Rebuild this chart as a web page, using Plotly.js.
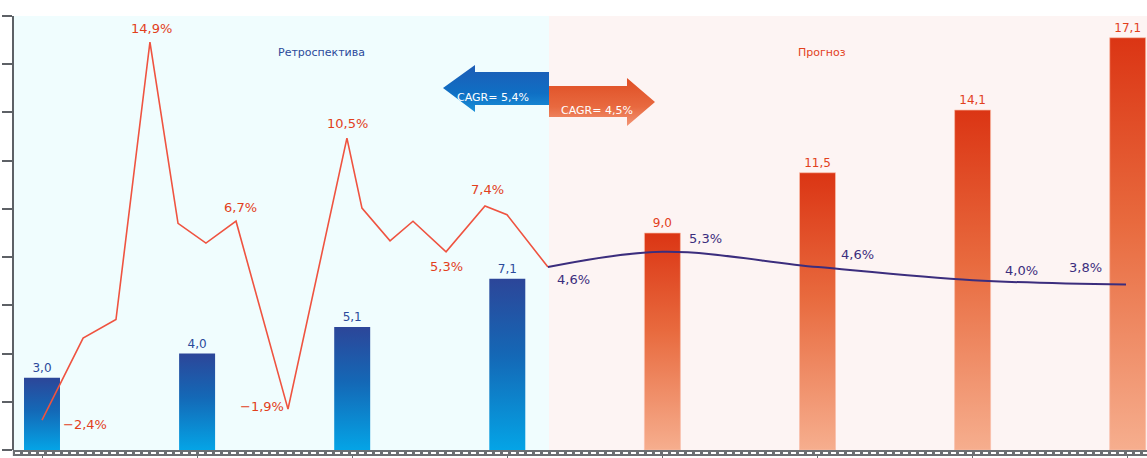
<!DOCTYPE html>
<html><head><meta charset="utf-8">
<script src="https://cdn.plot.ly/plotly-3.0.1.min.js"></script>
<style>html,body{margin:0;padding:0;background:#fff}#chart{width:1147px;height:458px}</style>
</head><body><div id="chart"></div>
<script>
// ---- data ----
const barPos = [0, 1, 2, 3, 4, 5, 6, 7];
const barValues = [3.0, 4.0, 5.1, 7.1, 9.0, 11.5, 14.1, 17.1];
const retroCount = 4;
const growthRetroX = [0, 0.265, 0.477, 0.696, 0.877, 1.057, 1.251, 1.586, 1.966, 2.063, 2.244, 2.392, 2.605, 2.856, 2.998, 3.262];
const growthRetro  = [-2.4, 1.35, 2.2, 14.9, 6.6, 5.7, 6.7, -1.9, 10.5, 7.3, 5.8, 6.7, 5.3, 7.4, 7.0, 4.6];
const growthFcX = [3.262, 4.0, 5.003, 6.003, 6.989];
const growthFc  = [4.6, 5.3, 4.6, 4.0, 3.8];
const cagrRetro = 5.4, cagrFc = 4.5;
const sectionLabels = ['Ретроспектива', 'Прогноз'];

// label positions: [index, xshift, yshift]
const retroLabelPts = [[3, 2, 14], [0, 43, -4], [6, 4, 14], [7, -26, 3], [8, 1, 15], [12, 0, -15], [13, 3, 16]];
const fcLabelPts = [[0, 26, -12], [1, 43, 13], [2, 40, 13], [3, 48, 10], [4, -40, 17]];

function fmt(v, pct) {
  return (v < 0 ? '\u2212' : '') + Math.abs(v).toFixed(1).replace('.', ',') + (pct ? '%' : '');
}

// pixel -> paper helpers for decorations (plot area 14..1147 x 16..450)
const PL = 14, PR = 1147, PT = 16, PB = 450;
const px = v => (v - PL) / (PR - PL);
const py = v => (PB - v) / (PB - PT);
function pathP(pts) { return 'M' + pts.map(p => px(p[0]).toFixed(5) + ',' + py(p[1]).toFixed(5)).join(' L') + ' Z'; }

const FONT = 'DejaVu Sans, Verdana, sans-serif';
const BLUE_TXT = '#2b4a9b', RED_TXT = '#e2401c', PURP = '#3b2d7d', RED_LINE = '#ef5340';

const data = [
  {
    type: 'bar', x: barPos.slice(0, retroCount), y: barValues.slice(0, retroCount),
    width: 0.232, marker: { color: '#1f62b4', line: { width: 0 } },
    text: barValues.slice(0, retroCount).map(v => fmt(v)), textposition: 'outside',
    textfont: { family: FONT, size: 12, color: BLUE_TXT }, cliponaxis: false, hoverinfo: 'none'
  },
  {
    type: 'bar', x: barPos.slice(retroCount), y: barValues.slice(retroCount),
    width: 0.232, marker: { color: '#e4582c', line: { width: 1, color: 'rgba(250,190,170,0.7)' } },
    text: barValues.slice(retroCount).map(v => fmt(v)), textposition: 'outside',
    textfont: { family: FONT, size: 12, color: RED_TXT }, cliponaxis: false, hoverinfo: 'none'
  },
  {
    type: 'scatter', mode: 'lines', x: growthRetroX, y: growthRetro, yaxis: 'y2',
    line: { color: RED_LINE, width: 1.6 }, hoverinfo: 'none'
  },
  {
    type: 'scatter', mode: 'lines', x: growthFcX, y: growthFc, yaxis: 'y2',
    line: { color: PURP, width: 2, shape: 'spline', smoothing: 1 }, hoverinfo: 'none'
  }
];

const annotations = [];
retroLabelPts.forEach(([i, xs, ys]) => annotations.push({
  x: growthRetroX[i], y: growthRetro[i], xref: 'x', yref: 'y2', text: fmt(growthRetro[i], true),
  showarrow: false, xshift: xs, yshift: ys, font: { family: FONT, size: 13, color: RED_TXT }
}));
fcLabelPts.forEach(([i, xs, ys]) => annotations.push({
  x: growthFcX[i], y: growthFc[i], xref: 'x', yref: 'y2', text: fmt(growthFc[i], true),
  showarrow: false, xshift: xs, yshift: ys, font: { family: FONT, size: 13, color: PURP }
}));
annotations.push({ xref: 'paper', yref: 'paper', x: px(276), y: py(44), text: sectionLabels[0], showarrow: false,
  font: { family: FONT, size: 11, color: BLUE_TXT } });
annotations.push({ xref: 'paper', yref: 'paper', x: px(848), y: py(44), text: sectionLabels[1], showarrow: false,
  font: { family: FONT, size: 11, color: RED_TXT } });
annotations.push({ xref: 'paper', yref: 'paper', x: px(493), y: py(89), text: 'CAGR= ' + fmt(cagrRetro, true), showarrow: false,
  font: { family: FONT, size: 11, color: '#ffffff' } });
annotations.push({ xref: 'paper', yref: 'paper', x: px(597), y: py(102), text: 'CAGR= ' + fmt(cagrFc, true), showarrow: false,
  font: { family: FONT, size: 11, color: '#ffffff' } });

const shapes = [
  { type: 'rect', xref: 'paper', yref: 'paper', x0: 0, x1: px(549), y0: 0, y1: 1, fillcolor: '#f0fdfe', line: { width: 0 }, layer: 'below' },
  { type: 'rect', xref: 'paper', yref: 'paper', x0: px(549), x1: 1, y0: 0, y1: 1, fillcolor: '#fdf4f3', line: { width: 0 }, layer: 'below' },
  // CAGR arrows
  { type: 'path', xref: 'paper', yref: 'paper', path: pathP([[443, 88], [475, 65], [475, 72], [549, 72], [549, 105], [475, 105], [475, 112]]),
    fillcolor: '#1565bd', line: { width: 0 }, layer: 'above' },
  { type: 'path', xref: 'paper', yref: 'paper', path: pathP([[549, 86], [627, 86], [627, 78], [655, 102], [627, 126], [627, 117], [549, 117]]),
    fillcolor: '#e6633a', line: { width: 0 }, layer: 'above' },
  // bottom "road" axis
  { type: 'rect', xref: 'paper', yref: 'paper', x0: -0.001, x1: 1, y0: py(456), y1: py(450), fillcolor: '#6b6e72', line: { width: 0 }, layer: 'above' },
  { type: 'line', xref: 'paper', yref: 'paper', x0: px(15), x1: 1, y0: py(453), y1: py(453), line: { color: '#ffffff', width: 2, dash: '5px,3px' }, layer: 'above' }
];

const layout = {
  width: 1147, height: 458,
  margin: { l: PL, r: 1147 - PR, t: PT, b: 458 - PB, pad: 0 },
  paper_bgcolor: '#ffffff', plot_bgcolor: 'rgba(0,0,0,0)',
  showlegend: false, barmode: 'overlay',
  xaxis: { range: [(PL - 42) / 155.1, (PR - 42) / 155.1], showgrid: false, zeroline: false, showline: false,
    ticks: 'outside', tick0: 0, dtick: 1, ticklen: 8, tickcolor: '#6b6e72', tickwidth: 1, showticklabels: false },
  yaxis: { range: [0, 18], showgrid: false, zeroline: false, showline: true, linecolor: '#5d6166', linewidth: 2,
    ticks: 'outside', dtick: 2, ticklen: 10, tickwidth: 2, tickcolor: '#5d6166', showticklabels: false },
  yaxis2: { overlaying: 'y', range: [-3.77, 16.09], visible: false },
  shapes: shapes, annotations: annotations
};

Plotly.newPlot('chart', data, layout, { displayModeBar: false }).then(gd => {
  const ns = 'http://www.w3.org/2000/svg';
  const svg = gd.querySelector('svg.main-svg');
  let defs = svg.querySelector('defs');
  if (!defs) { defs = document.createElementNS(ns, 'defs'); svg.insertBefore(defs, svg.firstChild); }
  function addGrad(id, stops) {
    const g = document.createElementNS(ns, 'linearGradient');
    g.setAttribute('id', id); g.setAttribute('x1', '0'); g.setAttribute('y1', '0'); g.setAttribute('x2', '0'); g.setAttribute('y2', '1');
    stops.forEach(([o, c]) => { const s = document.createElementNS(ns, 'stop'); s.setAttribute('offset', o); s.setAttribute('stop-color', c); g.appendChild(s); });
    defs.appendChild(g);
  }
  addGrad('gBlue', [[0, '#2c4699'], [0.45, '#1468b6'], [1, '#04a4e6']]);
  addGrad('gRed', [[0, '#db3514'], [0.45, '#e86a3e'], [1, '#f6ae8e']]);
  addGrad('gArrB', [[0, '#1d5cb5'], [0.6, '#0f6fc4'], [1, '#1a90d8']]);
  addGrad('gArrR', [[0, '#df4e24'], [0.6, '#e8693f'], [1, '#f29575']]);
  const bars = gd.querySelectorAll('.barlayer .trace');
  if (bars[0]) bars[0].querySelectorAll('.point path').forEach(p => p.style.fill = 'url(#gBlue)');
  if (bars[1]) bars[1].querySelectorAll('.point path').forEach(p => p.style.fill = 'url(#gRed)');
  const a1 = gd.querySelector('.shapelayer path[data-index="2"]');
  const a2 = gd.querySelector('.shapelayer path[data-index="3"]');
  if (a1) a1.style.fill = 'url(#gArrB)';
  if (a2) a2.style.fill = 'url(#gArrR)';
});
</script>
</body></html>
